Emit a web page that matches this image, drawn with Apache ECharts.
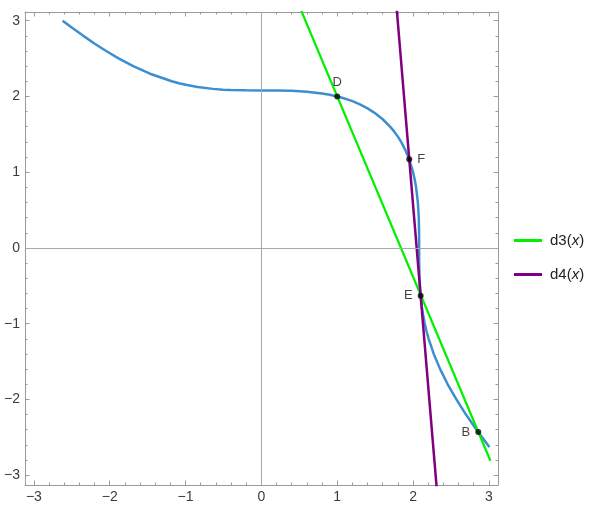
<!DOCTYPE html>
<html><head><meta charset="utf-8">
<script src="https://cdn.jsdelivr.net/npm/echarts@6/dist/echarts.min.js"></script>
<style>html,body{margin:0;padding:0;background:#fff}#c{width:600px;height:509px}</style>
</head><body><div id="c"></div>
<script>
// Curve points
const curveX = [-2.621,-2.487,-2.348,-2.202,-2.047,-1.878,-1.690,-1.469,-1.181,-1.088,-0.979,-0.842,-0.639,-0.505,-0.4,-0.2,0,0.2,0.4,0.6,0.8,0.9,1.0,1.1,1.2,1.3,1.4,1.5,1.6,1.7,1.75,1.8,1.85,1.9,1.95,2.0,2.0221,2.0398,2.0634,2.0753,2.0795,2.0801,2.0806,2.0848,2.0962,2.0993,2.1188,2.1348,2.1544,2.1775,2.2054,2.2728,2.3571,2.4566,2.5713,2.6975,2.8366,2.9844,3.0071];
const curveY = [3.0,2.9,2.8,2.7,2.6,2.5,2.4,2.3,2.2,2.175,2.15,2.125,2.1,2.09,2.0848,2.0806,2.0801,2.0795,2.0753,2.0634,2.0398,2.0221,2.0,1.972,1.9377,1.8946,1.8427,1.7784,1.699,1.5988,1.5384,1.4694,1.3869,1.2889,1.1659,1.0,0.9,0.8,0.6,0.4,0.2,0,-0.2,-0.4,-0.6,-0.63,-0.8,-0.9,-1.0,-1.1,-1.2,-1.4,-1.6,-1.8,-2.0,-2.2,-2.4,-2.6,-2.63];
// d3 line (green)
const d3X = [0.4, 3.02];
const d3Y = [3.43, -2.81];
// d4 line (purple)
const d4X = [1.75, 2.35];
const d4Y = [3.57, -3.63];
// labelled points
const pointNames = ['D','F','E','B'];
const pointX = [1.0, 1.95, 2.1, 2.86];
const pointY = [2.0, 1.17, -0.63, -2.43];
const pointLabelPos = ['top','right','left','left'];
// ticks
const xTicks = [-3,-2,-1,0,1,2,3];
const yTicks = [-3,-2,-1,0,1,2,3];
const xMin = -3.117, xMax = 3.12, yMin = -3.13, yMax = 3.115;

const minorOf = (ticks) => {
  const out = [];
  for (let i = 0; i < ticks.length - 1; i++) {
    for (let k = 1; k < 5; k++) out.push(+(ticks[i] + k * 0.2).toFixed(2));
  }
  return out;
};
const xMinor = minorOf(xTicks), yMinor = minorOf(yTicks);
const fmt = v => (v < 0 ? '\u2212' + Math.abs(v) : String(v));
const frameColor = '#9a9a9a';
const font = '"Liberation Sans", Arial, sans-serif';

function mkAxis(pos, min, max, major, minor, isMinor, showLabels) {
  return {
    type: 'value', position: pos, min, max,
    axisLine: { show: !isMinor, onZero: false, lineStyle: { color: frameColor, width: 1 } },
    axisTick: { show: true, inside: true, length: isMinor ? 2.5 : 4.5, customValues: isMinor ? minor : major,
      lineStyle: { color: frameColor, width: 1 } },
    axisLabel: { show: showLabels, customValues: major, formatter: fmt, color: '#3c3c3c', fontSize: 14,
      fontFamily: font, margin: 5 },
    splitLine: { show: false }
  };
}

const chart = echarts.init(document.getElementById('c'), null, { renderer: 'canvas' });
chart.setOption({
  animation: false,
  backgroundColor: '#fff',
  grid: { left: 25, top: 12, right: 102, bottom: 24, containLabel: false },
  xAxis: [
    mkAxis('bottom', xMin, xMax, xTicks, xMinor, false, true),
    mkAxis('bottom', xMin, xMax, xTicks, xMinor, true, false),
    mkAxis('top', xMin, xMax, xTicks, xMinor, false, false),
    mkAxis('top', xMin, xMax, xTicks, xMinor, true, false)
  ],
  yAxis: [
    mkAxis('left', yMin, yMax, yTicks, yMinor, false, true),
    mkAxis('left', yMin, yMax, yTicks, yMinor, true, false),
    mkAxis('right', yMin, yMax, yTicks, yMinor, false, false),
    mkAxis('right', yMin, yMax, yTicks, yMinor, true, false)
  ],
  legend: {
    orient: 'vertical', left: 514, top: 233, itemGap: 19, padding: 0,
    itemWidth: 28, itemHeight: 3, icon: 'rect',
    data: ['d3', 'd4'],
    formatter: n => '{a|' + n + '(}{i|x}{a|)}',
    textStyle: { fontFamily: font, fontSize: 15, color: '#222', padding: [0,0,0,3],
      rich: { a: { fontFamily: font, fontSize: 15, color: '#222' },
              i: { fontFamily: font, fontSize: 15, fontStyle: 'italic', color: '#222' } } }
  },
  series: [
    { type: 'line', name: 'axes0', data: [], silent: true, z: 1,
      markLine: { silent: true, symbol: 'none', label: { show: false },
        lineStyle: { color: '#a8a8a8', width: 1, type: 'solid' },
        data: [{ xAxis: 0 }, { yAxis: 0 }] } },
    { type: 'line', name: 'curve', data: curveX.map((x, i) => [x, curveY[i]]),
      showSymbol: false, smooth: false, lineStyle: { color: '#3b8fd0', width: 2.5 }, z: 3 },
    { type: 'line', name: 'd3', data: d3X.map((x, i) => [x, d3Y[i]]),
      showSymbol: false, color: '#00f000', lineStyle: { color: '#00f000', width: 2.2 }, z: 4 },
    { type: 'line', name: 'd4', data: d4X.map((x, i) => [x, d4Y[i]]),
      showSymbol: false, color: '#800080', lineStyle: { color: '#800080', width: 2.5 }, z: 4 },
    { type: 'scatter', name: 'pts', symbolSize: 6, itemStyle: { color: '#000' }, z: 6,
      data: pointNames.map((n, i) => ({ value: [pointX[i], pointY[i]], name: n,
        label: { show: true, position: pointLabelPos[i], distance: 5, formatter: n,
          fontFamily: font, fontSize: 13, color: '#111' } })) }
  ]
});
</script></body></html>
